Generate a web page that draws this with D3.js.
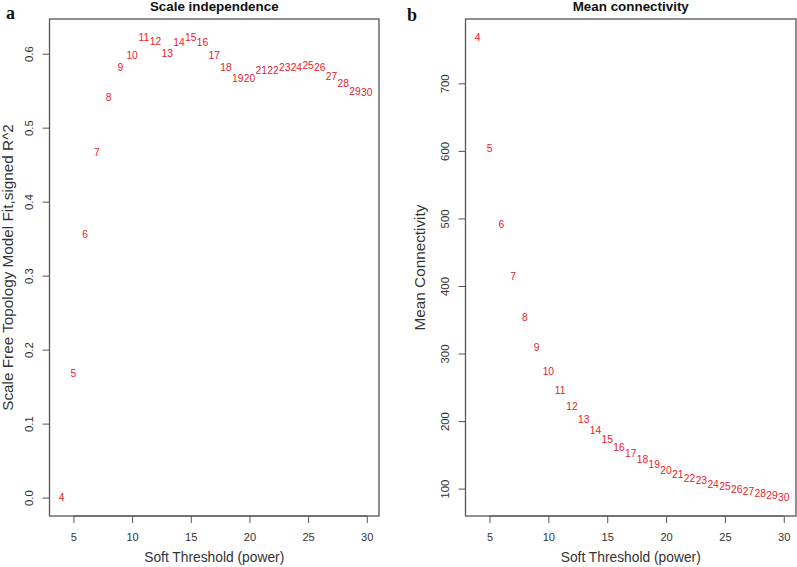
<!DOCTYPE html>
<html>
<head>
<meta charset="utf-8">
<script src="https://cdn.jsdelivr.net/npm/d3@7"></script>
<style>
  body { margin: 0; background: #fff; }
  .axis text { font-family: "Liberation Sans", Arial, sans-serif; font-size: 11.4px; fill: #333; }
  .axis path, .axis line { stroke: #555; }
</style>
</head>
<body>
<div id="chart"></div>
<script>
// soft threshold powers tested
var powers = [4, 5, 6, 7, 8, 9, 10, 11, 12, 13, 14, 15, 16, 17, 18, 19, 20, 21, 22, 23, 24, 25, 26, 27, 28, 29, 30];

// scale free topology fit, signed R^2 (panel a)
var fitR2 = [0.000, 0.168, 0.356, 0.467, 0.541, 0.582, 0.598, 0.622, 0.617, 0.600, 0.615, 0.622, 0.616, 0.598,
             0.581, 0.567, 0.567, 0.578, 0.577, 0.582, 0.581, 0.584, 0.582, 0.569, 0.560, 0.549, 0.548];

// mean connectivity (panel b)
var meanK = [768, 604, 492, 414, 354, 309, 273, 245, 222, 203, 187, 173, 161.5, 152, 143, 135.5, 127.5, 121.6,
             115.7, 111.8, 106.4, 103, 99, 95.6, 92.6, 89.6, 86.7];

var xTicks = [5, 10, 15, 20, 25, 30];
var fitTicks = [0.0, 0.1, 0.2, 0.3, 0.4, 0.5, 0.6];
var kTicks = [100, 200, 300, 400, 500, 600, 700];

var W = 797, H = 567;
var font = "'Liberation Sans', Arial, sans-serif";

var svg = d3.select("#chart").append("svg")
    .attr("width", W)
    .attr("height", H);

// R style limits: data range stretched by 4% on each side
function rlim(vals) {
  var e = d3.extent(vals), p = (e[1] - e[0]) * 0.04;
  return [e[0] - p, e[1] + p];
}

function panel(opt) {
  var x = d3.scaleLinear().domain(rlim(powers)).range([opt.left, opt.right]);
  var y = d3.scaleLinear().domain(rlim(opt.values)).range([opt.bottom, opt.top]);
  var g = svg.append("g");

  // box
  g.append("rect")
    .attr("x", opt.left).attr("y", opt.top)
    .attr("width", opt.right - opt.left).attr("height", opt.bottom - opt.top)
    .attr("fill", "none").attr("stroke", "#555").attr("stroke-width", 1.3);

  // x axis
  var xa = g.append("g")
      .attr("class", "axis")
      .attr("transform", "translate(0," + opt.bottom + ")")
      .call(d3.axisBottom(x).tickValues(xTicks).tickSize(7).tickSizeOuter(0).tickPadding(10.5));
  xa.select(".domain").attr("d", "M" + x(xTicks[0]) + ",0H" + x(xTicks[xTicks.length - 1]));
  xa.selectAll("text").style("font-size", "11.1px");

  // y axis, labels turned like R
  var ya = g.append("g")
      .attr("class", "axis")
      .attr("transform", "translate(" + opt.left + ",0)")
      .call(d3.axisLeft(y).tickValues(opt.ticks).tickSize(7).tickSizeOuter(0).tickFormat(opt.fmt));
  ya.select(".domain").attr("d", "M0," + y(opt.ticks[0]) + "V" + y(opt.ticks[opt.ticks.length - 1]));
  ya.selectAll(".tick text")
    .attr("x", null)
    .attr("text-anchor", "middle")
    .attr("transform", "translate(-20.5,0) rotate(-90)")
    .attr("dy", "0.35em");

  // point labels
  g.selectAll(".pt")
    .data(powers)
    .enter().append("text")
      .attr("class", "pt")
      .attr("x", function(d) { return x(d); })
      .attr("y", function(d, i) { return y(opt.values[i]); })
      .attr("dy", "0.36em")
      .attr("text-anchor", "middle")
      .style("font-family", font)
      .style("font-size", "10.3px")
      .style("fill", "#e8202a")
      .text(function(d) { return d; });

  // title
  g.append("text")
    .attr("x", (opt.left + opt.right) / 2).attr("y", 11)
    .attr("text-anchor", "middle")
    .style("font-family", font).style("font-weight", "bold").style("font-size", "13.4px")
    .style("fill", "#111")
    .text(opt.title);

  // axis titles
  g.append("text")
    .attr("x", (opt.left + opt.right) / 2).attr("y", 562)
    .attr("text-anchor", "middle")
    .style("font-family", font).style("font-size", "13.8px").style("fill", "#333")
    .text("Soft Threshold (power)");

  g.append("text")
    .attr("transform", "translate(" + opt.ylx + "," + (opt.top + opt.bottom) / 2 + ") rotate(-90)")
    .attr("text-anchor", "middle")
    .style("font-family", font).style("font-size", "15.3px").style("fill", "#333")
    .text(opt.ylab);

  // panel letter
  g.append("text")
    .attr("x", opt.letterX).attr("y", opt.letterY)
    .style("font-family", "'Liberation Serif', 'Times New Roman', serif")
    .style("font-weight", "bold").style("font-size", "18px")
    .style("fill", "#111")
    .text(opt.letter);
}

panel({
  left: 49.5, right: 379, top: 19, bottom: 516,
  values: fitR2, ticks: fitTicks, fmt: d3.format(".1f"),
  ylx: 13,
  title: "Scale independence",
  ylab: "Scale Free Topology Model Fit,signed R^2",
  letter: "a", letterX: 6, letterY: 18.5
});

panel({
  left: 465.5, right: 796, top: 19, bottom: 516,
  values: meanK, ticks: kTicks, fmt: d3.format("d"),
  ylx: 424.5,
  title: "Mean connectivity",
  ylab: "Mean Connectivity",
  letter: "b", letterX: 407, letterY: 20.5
});
</script>
</body>
</html>
